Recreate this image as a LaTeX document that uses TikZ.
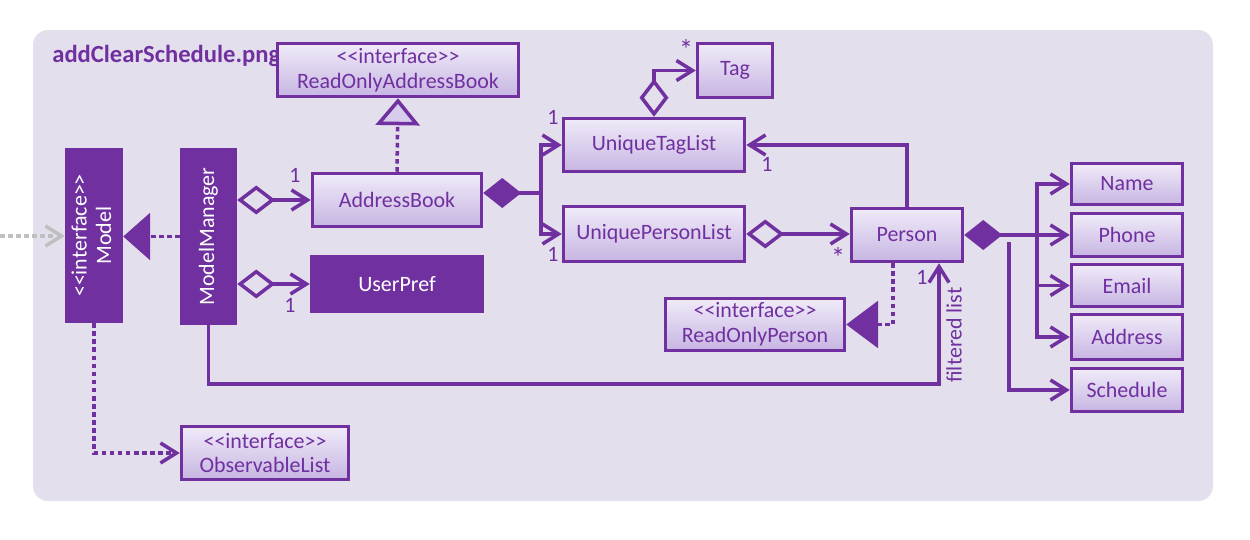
\documentclass[tikz,border=0pt]{standalone}
\usepackage{fontspec}
\setmainfont{Carlito}
\usepackage{graphicx}
\usepackage{tikz}
\usetikzlibrary{arrows.meta}
\definecolor{umlpurple}{HTML}{7030A0}
\definecolor{panelbg}{HTML}{E4DFEC}
\definecolor{boxtop}{HTML}{F0EBF9}
\definecolor{boxbot}{HTML}{C7B5E2}
\definecolor{boxmid}{HTML}{D8CCEC}
\definecolor{dotgray}{HTML}{BFBFBF}
\newcommand{\umlfont}{\fontsize{12.5}{14}\selectfont}
\newcommand{\stereo}{<{}<interface>{}>}
\tikzset{
  classbox/.style={rectangle, draw=umlpurple, line width=2pt, top color=boxtop, bottom color=boxbot, text=umlpurple, align=center, inner sep=0pt, font=\umlfont},
  darkbox/.style={rectangle, draw=umlpurple, line width=2pt, fill=umlpurple, text=white, align=center, inner sep=0pt, font=\umlfont},
  attrbox/.style={classbox, minimum width=2.22cm},
  mult/.style={text=umlpurple, inner sep=0pt, font=\umlfont},
  star/.style={mult, font=\fontsize{16}{16}\selectfont},
  titletext/.style={text=umlpurple, inner sep=0pt, font=\bfseries\fontsize{14}{16}\selectfont},
  conn/.style={draw=umlpurple, line width=2pt},
  assoc/.style={conn, -{Straight Barb[length=0.32cm, width=0.4cm]}},
  aggr/.style={conn, {Diamond[open, length=0.76cm, width=0.58cm]}-{Straight Barb[length=0.32cm, width=0.4cm]}},
  compo/.style={conn, {Diamond[length=0.76cm, width=0.6cm]}-},
  realize/.style={conn, dash pattern=on 2.6pt off 2pt},
  depend/.style={conn, dash pattern=on 2.6pt off 2pt, -{Straight Barb[length=0.32cm, width=0.4cm]}},
  graydep/.style={depend, draw=dotgray}
}

\begin{document}
\begin{tikzpicture}[x=0.02cm, y=-0.02cm]
\useasboundingbox (0,0) rectangle (1250,540);
% panel
\fill[panelbg, rounded corners=0.3cm] (33,30) rectangle (1213,501);
\node[titletext, anchor=base west] (title) at (52,63) {addClearSchedule.png};

% model and manager
\node[darkbox, minimum width=1.1cm, minimum height=3.44cm] (model) at (94,235.5) {\rotatebox{90}{\begin{tabular}{@{}c@{}}\stereo\\Model\end{tabular}}};
\node[darkbox, minimum width=1.08cm, minimum height=3.48cm] (mm) at (208.5,236.5) {\rotatebox{90}{ModelManager}};
\node[classbox, minimum width=4.82cm, minimum height=1.06cm] (roab) at (398,70) {\stereo\\ReadOnlyAddressBook};
\node[classbox, minimum width=3.38cm, minimum height=1.06cm] (ab) at (397,200) {AddressBook};
\node[darkbox, minimum width=3.42cm, minimum height=1.1cm] (up) at (397,284) {UserPref};
\node[classbox, minimum width=3.34cm, minimum height=1.06cm] (obs) at (265,453) {\stereo\\ObservableList};

% lists and person
\node[classbox, minimum width=3.62cm, minimum height=1.06cm] (utl) at (654,145) {UniqueTagList};
\node[classbox, minimum width=3.62cm, minimum height=1.1cm] (upl) at (654,234) {UniquePersonList};
\node[classbox, minimum width=1.5cm, minimum height=1.08cm] (tag) at (735,70.5) {Tag};
\node[classbox, minimum width=2.22cm, minimum height=1.06cm] (person) at (907,235) {Person};
\node[classbox, minimum width=3.58cm, minimum height=1.04cm] (rop) at (755,324.5) {\stereo\\ReadOnlyPerson};

% attributes
\node[attrbox, minimum height=0.82cm] (name) at (1127,184) {Name};
\node[attrbox, minimum height=0.86cm] (phone) at (1127,235) {Phone};
\node[attrbox, minimum height=0.84cm] (email) at (1127,285.5) {Email};
\node[attrbox, minimum height=0.9cm] (address) at (1127,337) {Address};
\node[attrbox, minimum height=0.86cm] (schedule) at (1127,390) {Schedule};

\coordinate (gin) at (0,236);
\coordinate (abJ) at (541,193);
\coordinate (pJ) at (1037,235);
\coordinate (sJ) at (1009,242);
\coordinate (fl) at (939,384);

\draw[graydep] (gin) -- (gin -| model.west);
\draw[realize, -{Triangle[length=0.54cm, width=0.94cm]}] (mm.west) -- (mm.west -| model.east);
\draw[aggr] (mm.east |- ab) -- (ab.west);
\draw[aggr] (mm.east |- up) -- (up.west);
\draw[realize, -{Triangle[length=0.54cm, width=0.88cm, fill=boxmid]}] (ab.north) -- (roab.south);
\draw[compo] (ab.east |- abJ) -- (abJ);
\draw[assoc] (abJ) |- (utl.west);
\draw[assoc] (abJ) |- (upl.west);
\draw[aggr] (utl.north) |- (tag.west);
\draw[aggr] (upl.east) -- (upl.east -| person.west);
\draw[assoc] (person.north) |- (utl.east);
\draw[compo] (person.east) -- (pJ);
\draw[assoc] (pJ) |- (name.west);
\draw[assoc] (pJ) -- (phone.west);
\draw[assoc] (pJ) |- (email.west);
\draw[assoc] (pJ) |- (address.west);
\draw[assoc] (sJ) |- (schedule.west);
\draw[realize, -{Triangle[length=0.64cm, width=0.94cm]}] ([xshift=-0.28cm]person.south) |- (rop.east);
\draw[assoc] (mm.south) |- (fl) -- (fl |- person.south);
\draw[depend] (model.south) |- (obs.west);

% multiplicities
\node[mult] (mAB) at (295,175) {1};
\node[mult] (mUP) at (290,305) {1};
\node[mult] (mUTL) at (553,117) {1};
\node[mult] (mUPL) at (553,254) {1};
\node[star] (mTag) at (686,50) {*};
\node[mult] (mUTLr) at (767,164) {1};
\node[star] (mPer) at (838,258) {*};
\node[mult] (mFl) at (922,277) {1};
\node[mult, rotate=90] (flText) at (954,335) {filtered list};
\end{tikzpicture}
\end{document}
